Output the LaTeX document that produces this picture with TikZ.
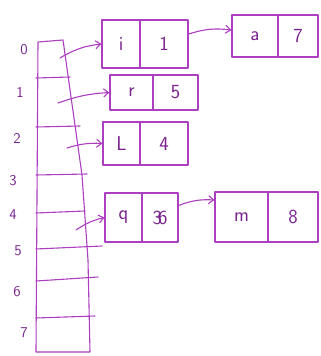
\documentclass[tikz,border=0pt]{standalone}
\usetikzlibrary{arrows.meta}
\definecolor{ink}{RGB}{172,62,192}
\definecolor{inkdark}{RGB}{120,36,140}
\begin{document}
\begin{tikzpicture}[x=1pt,y=-1pt,
  ink line/.style={draw=ink,line width=1.1pt,line join=round,line cap=round},
  part/.style={ink line,rectangle,inner sep=0pt,text=inkdark,font=\sffamily\fontsize{20}{20}\selectfont},
  idx/.style={text=inkdark,font=\sffamily\fontsize{15}{15}\selectfont,inner sep=0pt},
  arr/.style={ink line,-{Straight Barb[length=5pt,width=8pt]}}]
\useasboundingbox (0,0) rectangle (321,356);
% array
\draw[ink line] (63,40) -- (38,42) -- (36,352) -- (90,352) -- (88,260) -- (82,175) -- (63,40);
\draw[ink line] (36,78) -- (70,77);
\draw[ink line] (36,127) -- (80,126);
\draw[ink line] (36,175) -- (87,174);
\draw[ink line] (36,213) -- (85,211);
\draw[ink line] (36,249) -- (102,246);
\draw[ink line] (36,281) -- (98,277);
\draw[ink line] (36,318) -- (95,316);
% index labels
\node[idx] (l0) at (24,50) {0};
\node[idx] (l1) at (20,92) {1};
\node[idx] (l2) at (17,138) {2};
\node[idx] (l3) at (13,181) {3};
\node[idx] (l4) at (13,215) {4};
\node[idx] (l5) at (18,251) {5};
\node[idx] (l6) at (17,292) {6};
\node[idx] (l7) at (24,333) {7};
% arrow start points inside the array
\coordinate (c0) at (60,58);
\coordinate (c1) at (58,103);
\coordinate (c2) at (67,148);
\coordinate (c4) at (76,230);
% boxes
\node[part,minimum width=38pt,minimum height=48pt] (iL) at (121,44) {i};
\node[part,minimum width=48pt,minimum height=48pt] (iR) at (164,44) {1};
\node[part,minimum width=46pt,minimum height=42pt] (aL) at (255,36) {a};
\node[part,minimum width=40pt,minimum height=42pt] (aR) at (298,36) {7};
\node[part,minimum width=43pt,minimum height=35pt] (rL) at (131.5,92.5) {r};
\node[part,minimum width=45pt,minimum height=35pt] (rR) at (175.5,92.5) {5};
\node[part,minimum width=37pt,minimum height=43pt] (LL) at (121.5,143.5) {L};
\node[part,minimum width=48pt,minimum height=43pt] (LR) at (164,143.5) {4};
\node[part,minimum width=37pt,minimum height=49pt] (qL) at (123.5,217.5) {q};
\node[part,minimum width=36pt,minimum height=49pt] (qR) at (160,217.5) {3\kern-4pt6};
\node[part,minimum width=53pt,minimum height=50pt] (mL) at (241.5,217) {m};
\node[part,minimum width=50pt,minimum height=50pt] (mR) at (293,217) {8};
% pointers
\draw[arr] (c0) to[bend left=12] (iL.west);
\draw[arr] (c1) to[bend left=8] (rL.west);
\draw[arr] (c2) to[bend left=10] (LL.west);
\draw[arr] (c4) to[bend left=10] (qL.west);
\draw[arr] ([yshift=10pt]iR.east) to[bend left=12] ([yshift=6pt]aL.west);
\draw[arr] ([yshift=12pt]qR.east) to[bend left=12] ([yshift=17pt]mL.west);
\end{tikzpicture}
\end{document}
